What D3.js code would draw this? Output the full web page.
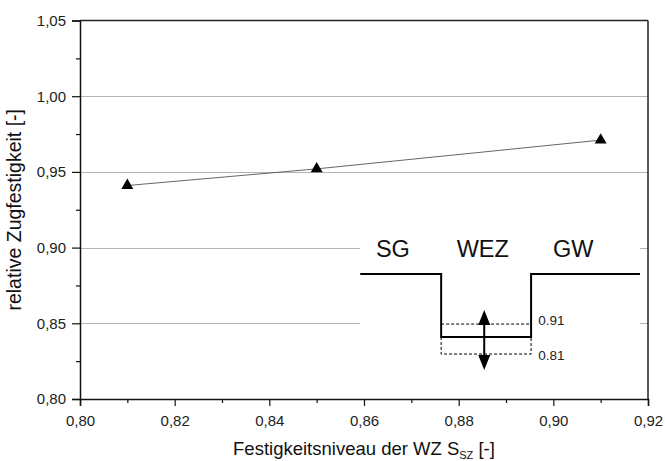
<!DOCTYPE html>
<html>
<head>
<meta charset="utf-8">
<script src="https://cdn.jsdelivr.net/npm/d3@7"></script>
<style>
  body { margin: 0; background: #fff; }
  svg { display: block; font-family: "Liberation Sans", Arial, sans-serif; }
</style>
</head>
<body>
<div id="chart"></div>
<script>
// measured points
var festigkeit = [0.81, 0.85, 0.91];
var zugfestigkeit = [0.941, 0.952, 0.971];

var xTicks = [0.80, 0.82, 0.84, 0.86, 0.88, 0.90, 0.92];
var xMinor = [0.81, 0.83, 0.85, 0.87, 0.89, 0.91];
var yTicks = [0.80, 0.85, 0.90, 0.95, 1.00, 1.05];
var yMinor = [0.825, 0.875, 0.925, 0.975, 1.025];
var gridVals = [0.85, 0.90, 0.95, 1.00];

// inset schematic, in data units of the chart
var profileX = [0.8592, 0.8763, 0.8763, 0.8953, 0.8953, 0.9183];
var profileY = [0.8826, 0.8826, 0.8410, 0.8410, 0.8826, 0.8826];
var zoneLabels = ["SG", "WEZ", "GW"];
var zoneLabelX = [0.8661, 0.8851, 0.9042];
var zoneLabelY = 0.8938;
var bandLevels = ["0.91", "0.81"];
var bandY = [0.8495, 0.8297];
var bandLabelY = [0.8489, 0.8258];
var arrowX = 0.8854, arrowTop = 0.8588, arrowBottom = 0.8192;

var width = 665, height = 461;
var margin = {top: 20.5, right: 17, bottom: 62, left: 80};

var comma = d3.formatLocale({decimal: ",", thousands: ".", grouping: [3], currency: ["", ""]}).format(".2f");

var svg = d3.select("#chart").append("svg")
    .attr("width", width)
    .attr("height", height);

var x = d3.scaleLinear().domain([0.80, 0.92]).range([margin.left, width - margin.right]);
var y = d3.scaleLinear().domain([0.80, 1.05]).range([height - margin.bottom, margin.top]);

// grid
svg.append("g").selectAll("line")
    .data(gridVals)
    .enter().append("line")
    .attr("x1", x(0.80)).attr("x2", x(0.92))
    .attr("y1", function(d){ return Math.round(y(d)) + 0.5; })
    .attr("y2", function(d){ return Math.round(y(d)) + 0.5; })
    .attr("stroke", "#b4b4b4")
    .attr("stroke-width", 1);

// data line + triangles
var line = d3.line()
    .x(function(d, i){ return x(festigkeit[i]); })
    .y(function(d){ return y(d); });

svg.append("path")
    .datum(zugfestigkeit)
    .attr("d", line)
    .attr("fill", "none")
    .attr("stroke", "#555")
    .attr("stroke-width", 0.9);

svg.append("g").selectAll("path")
    .data(zugfestigkeit)
    .enter().append("path")
    .attr("d", d3.symbol().type(d3.symbolTriangle).size(62))
    .attr("transform", function(d, i){ return "translate(" + x(festigkeit[i]) + "," + y(d) + ")"; })
    .attr("fill", "#000");

// inset
var inset = svg.append("g");

inset.append("rect")
    .attr("x", x(profileX[0]))
    .attr("y", y(0.905))
    .attr("width", x(profileX[5]) - x(profileX[0]))
    .attr("height", y(0.815) - y(0.905))
    .attr("fill", "#fff");

// dashed band
inset.append("line")
    .attr("x1", x(profileX[1])).attr("x2", x(profileX[3]))
    .attr("y1", y(bandY[0])).attr("y2", y(bandY[0]))
    .attr("stroke", "#000").attr("stroke-width", 1).attr("stroke-dasharray", "3,2");
inset.append("path")
    .attr("d", d3.line()([
        [x(profileX[1]), y(profileY[2])],
        [x(profileX[1]), y(bandY[1])],
        [x(profileX[3]), y(bandY[1])],
        [x(profileX[3]), y(profileY[2])]
    ]))
    .attr("fill", "none")
    .attr("stroke", "#000").attr("stroke-width", 1).attr("stroke-dasharray", "3,2");

var profile = d3.line()
    .x(function(d){ return x(d); })
    .y(function(d, i){ return y(profileY[i]); });

inset.append("path")
    .datum(profileX)
    .attr("d", profile)
    .attr("fill", "none")
    .attr("stroke", "#000")
    .attr("stroke-width", 2);

// double arrow
var ax = x(arrowX), at = y(arrowTop), ab = y(arrowBottom);
inset.append("line")
    .attr("x1", ax).attr("x2", ax)
    .attr("y1", at + 8).attr("y2", ab - 8)
    .attr("stroke", "#000").attr("stroke-width", 2);
inset.append("path")
    .attr("d", "M" + ax + "," + at + "L" + (ax - 6) + "," + (at + 15) + "L" + (ax + 6) + "," + (at + 15) + "Z")
    .attr("fill", "#000");
inset.append("path")
    .attr("d", "M" + ax + "," + ab + "L" + (ax - 6) + "," + (ab - 15) + "L" + (ax + 6) + "," + (ab - 15) + "Z")
    .attr("fill", "#000");

inset.selectAll(".zone")
    .data(zoneLabels)
    .enter().append("text")
    .attr("class", "zone")
    .attr("x", function(d, i){ return x(zoneLabelX[i]); })
    .attr("y", y(zoneLabelY))
    .attr("text-anchor", "middle")
    .attr("font-size", 23.5)
    .attr("fill", "#111")
    .text(function(d){ return d; });

inset.selectAll(".band")
    .data(bandLevels)
    .enter().append("text")
    .attr("class", "band")
    .attr("x", x(0.8968))
    .attr("y", function(d, i){ return y(bandLabelY[i]); })
    .attr("font-size", 13.5)
    .attr("fill", "#222")
    .text(function(d){ return d; });

// frame
svg.append("line")
    .attr("x1", x(0.80)).attr("x2", x(0.92))
    .attr("y1", y(1.05)).attr("y2", y(1.05))
    .attr("stroke", "#222").attr("stroke-width", 1.5);
svg.append("line")
    .attr("x1", x(0.92)).attr("x2", x(0.92))
    .attr("y1", y(1.05)).attr("y2", y(0.80))
    .attr("stroke", "#222").attr("stroke-width", 1.5);

// axes
svg.append("g")
    .attr("transform", "translate(0," + y(0.80) + ")")
    .call(d3.axisBottom(x).tickValues(xTicks).tickFormat(comma).tickSize(7).tickPadding(9));
svg.append("g")
    .attr("transform", "translate(0," + y(0.80) + ")")
    .call(d3.axisBottom(x).tickValues(xMinor).tickFormat("").tickSize(4))
    .select(".domain").remove();

svg.append("g")
    .attr("transform", "translate(" + x(0.80) + ",0)")
    .call(d3.axisLeft(y).tickValues(yTicks).tickFormat(comma).tickSize(8).tickPadding(6));
svg.append("g")
    .attr("transform", "translate(" + x(0.80) + ",0)")
    .call(d3.axisLeft(y).tickValues(yMinor).tickFormat("").tickSize(4))
    .select(".domain").remove();

svg.selectAll(".domain").attr("stroke", "#111").attr("stroke-width", 1.5);
svg.selectAll(".tick line").attr("stroke", "#111").attr("stroke-width", 1.2);
svg.selectAll(".tick text")
    .attr("font-size", 15)
    .attr("font-family", "Liberation Sans, Arial, sans-serif")
    .attr("fill", "#222");

// axis titles
var xt = svg.append("text")
    .attr("x", (x(0.80) + x(0.92)) / 2)
    .attr("y", 455)
    .attr("text-anchor", "middle")
    .attr("font-size", 18.5)
    .attr("fill", "#111");
xt.append("tspan").text("Festigkeitsniveau der WZ S");
xt.append("tspan").attr("font-size", 11).attr("dy", 4).text("SZ");
xt.append("tspan").attr("dy", -4).text(" [-]");

svg.append("text")
    .attr("transform", "translate(21," + ((y(0.80) + y(1.05)) / 2) + ") rotate(-90)")
    .attr("text-anchor", "middle")
    .attr("font-size", 19.5)
    .attr("fill", "#111")
    .text("relative Zugfestigkeit [-]");
</script>
</body>
</html>
